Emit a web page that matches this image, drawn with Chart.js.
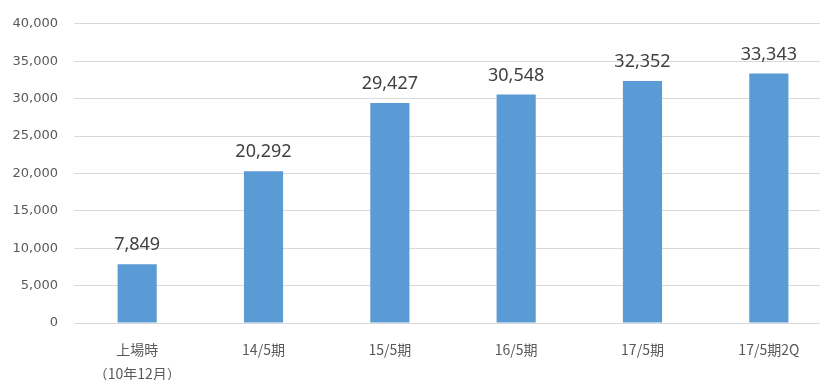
<!DOCTYPE html>
<html>
<head>
<meta charset="utf-8">
<script src="https://cdn.jsdelivr.net/npm/chart.js@4"></script>
<style>
  html, body { margin: 0; padding: 0; background: #fff; overflow: hidden; }
  #wrap { width: 832px; height: 380px; }
</style>
</head>
<body>
<div id="wrap"><canvas id="myBarChart"></canvas></div>
<script>
// categories (x axis)
const labels = [['上場時', '（10年12月）'], '14/5期', '15/5期', '16/5期', '17/5期', '17/5期2Q'];
// series values
const values = [7849, 20292, 29427, 30548, 32352, 33343];
// y axis ticks
const yMin = 0;
const yMax = 40000;
const yStep = 5000;

const fmt = v => v.toLocaleString('en-US');

// draw value labels above each bar
const valueLabels = {
    id: 'valueLabels',
    afterDatasetsDraw(chart) {
        const ctx = chart.ctx;
        const meta = chart.getDatasetMeta(0);
        ctx.save();
        ctx.font = '18px "Noto Sans", "DejaVu Sans", sans-serif';
        ctx.fillStyle = '#404040';
        ctx.textAlign = 'center';
        ctx.textBaseline = 'middle';
        meta.data.forEach((bar, i) => {
            const p = bar.getProps(['x', 'y'], true);
            ctx.fillText(fmt(values[i]), p.x, p.y - 19);
        });
        ctx.restore();
    }
};

const ctx = document.getElementById('myBarChart').getContext('2d');
const myChart = new Chart(ctx, {
    type: 'bar',
    data: {
        labels: labels,
        datasets: [{
            data: values,
            backgroundColor: '#5B9BD5',
            borderWidth: 0,
            barPercentage: 0.31,
            categoryPercentage: 1.0
        }]
    },
    options: {
        responsive: true,
        maintainAspectRatio: false,
        animation: false,
        layout: { padding: { top: 22, right: 0, left: 0, bottom: 0 } },
        plugins: {
            legend: { display: false },
            tooltip: { enabled: false }
        },
        scales: {
            x: {
                grid: { display: false, drawTicks: false },
                border: { display: false },
                ticks: {
                    color: '#595959',
                    font: { family: '"Noto Sans CJK JP", sans-serif', size: 14, lineHeight: 1.75 },
                    padding: 14,
                    maxRotation: 0,
                    autoSkip: false
                },
                afterFit: s => { s.height = 57; }
            },
            y: {
                min: yMin,
                max: yMax,
                grid: { color: '#d9d9d9', drawTicks: false },
                border: { display: false },
                ticks: {
                    stepSize: yStep,
                    color: '#595959',
                    padding: 16,
                    font: { family: '"DejaVu Sans", sans-serif', size: 13 },
                    callback: v => fmt(v)
                },
                afterFit: s => { s.width = 74; }
            }
        }
    },
    plugins: [valueLabels]
});
</script>
</body>
</html>
